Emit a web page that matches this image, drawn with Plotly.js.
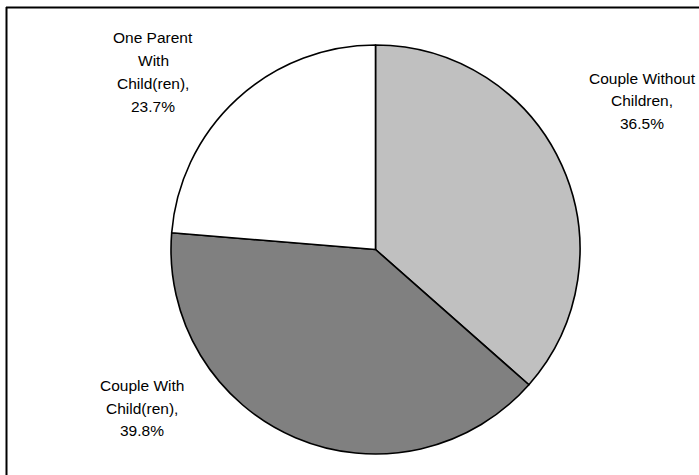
<!DOCTYPE html>
<html>
<head>
<meta charset="utf-8">
<script src="https://cdn.plot.ly/plotly-3.0.1.min.js"></script>
<style>html,body{margin:0;padding:0;background:#fff;}#chart{width:699px;height:475px;}</style>
</head>
<body>
<div id="chart"></div>
<script>
// Data
const categories = ["Couple Without Children", "Couple With Child(ren)", "One Parent With Child(ren)"];
const wrappedLabels = ["Couple Without<br>Children", "Couple With<br>Child(ren)", "One Parent<br>With<br>Child(ren)"];
const values = [36.5, 39.8, 23.7];
const colors = ["#C0C0C0", "#808080", "#FFFFFF"];

// Label placement (pixel centres of each label block)
const W = 699, H = 475;
const labelPos = [[642, 101], [142, 408], [153, 72]];
const lineGap = 22.7;

const annotations = [];
categories.forEach((c, i) => {
  const lines = wrappedLabels[i].split('<br>');
  lines[lines.length - 1] += ',';
  lines.push(values[i].toFixed(1) + '%');
  const n = lines.length;
  lines.forEach((t, k) => {
    const py = labelPos[i][1] + (k - (n - 1) / 2) * lineGap;
    annotations.push({
      text: t, x: labelPos[i][0] / W, y: 1 - py / H,
      xref: 'paper', yref: 'paper', xanchor: 'center', yanchor: 'middle',
      showarrow: false,
      font: {family: 'Liberation Sans, Arial, sans-serif', size: 15.5, color: '#000'}
    });
  });
});

const trace = {
  type: 'pie',
  labels: categories,
  values: values,
  sort: false,
  direction: 'clockwise',
  rotation: 0,
  textinfo: 'none',
  hoverinfo: 'label+percent',
  marker: {colors: colors, line: {color: '#000', width: 1.6}},
  domain: {x: [171 / W, 580 / W], y: [1 - 454 / H, 1 - 45 / H]},
  showlegend: false
};

const layout = {
  width: W, height: H,
  margin: {l: 0, r: 0, t: 0, b: 0},
  paper_bgcolor: '#fff',
  showlegend: false,
  annotations: annotations,
  shapes: [
    {type: 'line', xref: 'paper', yref: 'paper', x0: 6 / W, x1: 1.05, y0: 1 - 7.5 / H, y1: 1 - 7.5 / H, line: {color: '#000', width: 2}},
    {type: 'line', xref: 'paper', yref: 'paper', x0: 6.5 / W, x1: 6.5 / W, y0: 1 - 7 / H, y1: -0.05, line: {color: '#000', width: 2}}
  ]
};

Plotly.newPlot('chart', [trace], layout, {staticPlot: true, displayModeBar: false});
</script>
</body>
</html>
